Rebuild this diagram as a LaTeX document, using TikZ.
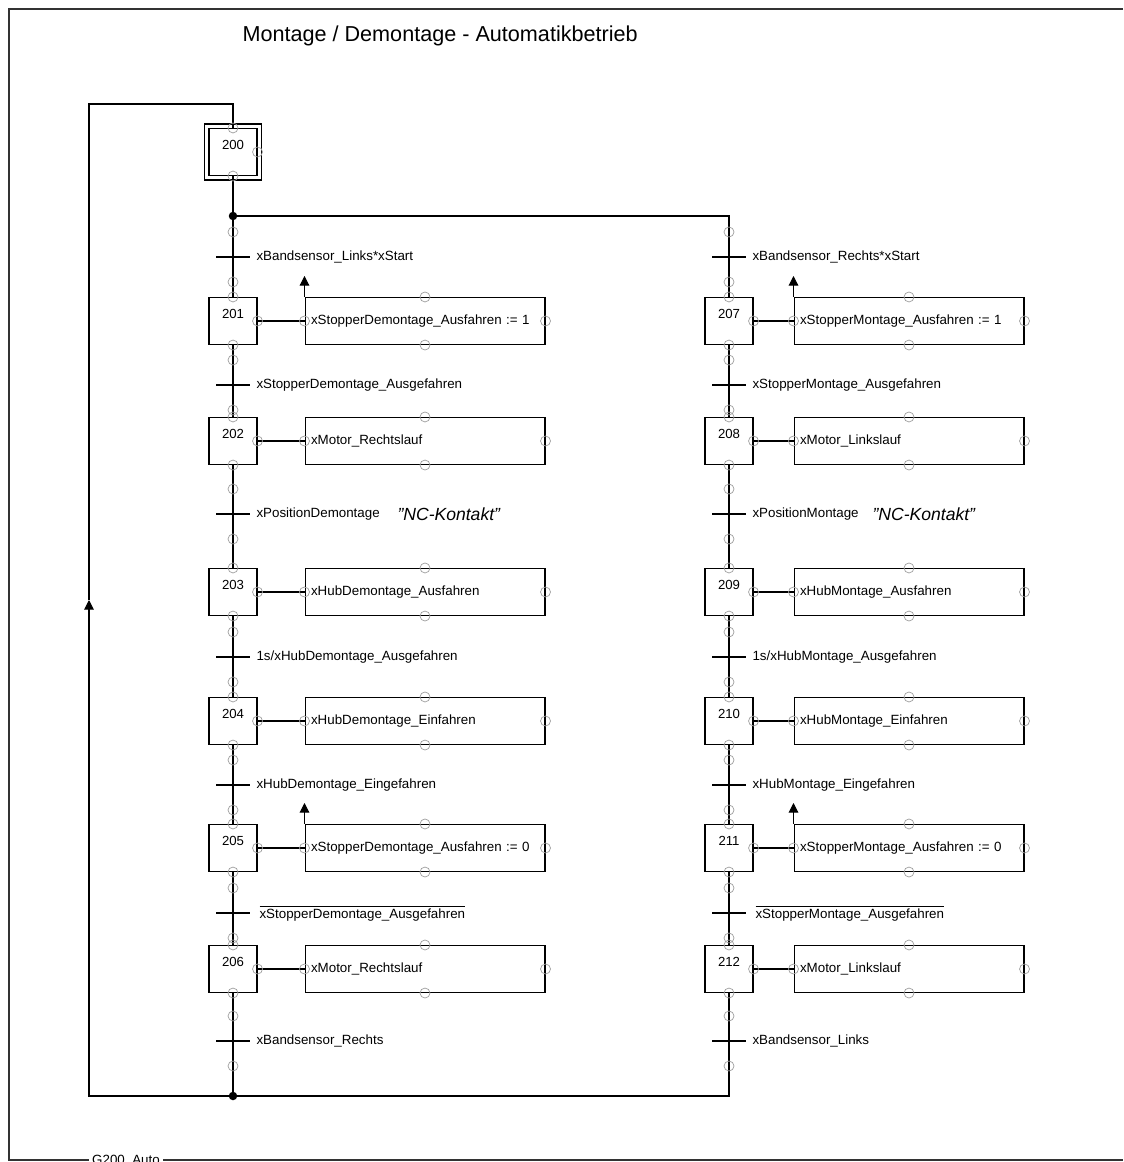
\documentclass[tikz,border=0pt]{standalone}
\usepackage{fontspec}
\setmainfont{Liberation Sans}
\usepackage{amsmath}
\usetikzlibrary{arrows.meta}

\tikzset{
  gstep/.style={draw,minimum width=0.96cm,minimum height=0.94cm,inner sep=0pt,
    font=\fontsize{7.5}{9}\selectfont,text height=5pt,text depth=7.5pt},
  gact/.style={draw,minimum height=0.94cm,inner xsep=0.12cm,inner ysep=0pt,
    align=left,text width=#1,font=\fontsize{7.6}{9}\selectfont},
  lbl/.style={anchor=west,inner sep=0pt,font=\fontsize{7.6}{9}\selectfont},
  nck/.style={anchor=west,inner sep=0pt,font=\fontsize{10}{12}\selectfont\itshape},
  port/.style={draw=black!38,line width=0.4pt},
  frame/.style={draw=black!80,line width=0.8pt},
  tip/.style={-{Triangle[width=5.5pt,length=5.5pt]}}
}

\begin{document}
\begin{tikzpicture}[x=0.02cm,y=-0.02cm,line width=0.6pt]
\useasboundingbox (0,0) rectangle (1123,1162);
% frame and title
\draw[frame] (1123,9) -- (9,9) -- (9,1160) -- (1123,1160);
\node[fill=white,inner xsep=2pt,inner ysep=1pt,font=\fontsize{7.6}{9}\selectfont] (gname) at (126,1161) {G200\_Auto};
\node[anchor=west,inner sep=0pt,font=\fontsize{12.3}{14}\selectfont] (title) at (242,36) {Montage / Demontage - Automatikbetrieb};

% initial step
\node[gstep] (s200) at (233,152) {200};
\draw ([shift={(-4,4)}]s200.south west) rectangle ([shift={(4,-4)}]s200.north east);
\coordinate (div) at (233,216);
\coordinate (conv) at (233,1096);
\coordinate (ret) at (89,1096);
\coordinate (mid) at (89,600);
\coordinate (top) at (89,104);

% left branch
\node[gstep] (s201) at (233,321) {201};
\node[gstep] (s202) at (233,441) {202};
\node[gstep] (s203) at (233,592) {203};
\node[gstep] (s204) at (233,721) {204};
\node[gstep] (s205) at (233,848) {205};
\node[gstep] (s206) at (233,969) {206};
\node[gact=4.56cm] (a201) at (425,321) {xStopperDemontage\_Ausfahren~:=~1};
\node[gact=4.56cm] (a202) at (425,441) {xMotor\_Rechtslauf};
\node[gact=4.56cm] (a203) at (425,592) {xHubDemontage\_Ausfahren};
\node[gact=4.56cm] (a204) at (425,721) {xHubDemontage\_Einfahren};
\node[gact=4.56cm] (a205) at (425,848) {xStopperDemontage\_Ausfahren~:=~0};
\node[gact=4.56cm] (a206) at (425,969) {xMotor\_Rechtslauf};

% right branch
\node[gstep] (s207) at (729,321) {207};
\node[gstep] (s208) at (729,441) {208};
\node[gstep] (s209) at (729,592) {209};
\node[gstep] (s210) at (729,721) {210};
\node[gstep] (s211) at (729,848) {211};
\node[gstep] (s212) at (729,969) {212};
\node[gact=4.36cm] (a207) at (909,321) {xStopperMontage\_Ausfahren~:=~1};
\node[gact=4.36cm] (a208) at (909,441) {xMotor\_Linkslauf};
\node[gact=4.36cm] (a209) at (909,592) {xHubMontage\_Ausfahren};
\node[gact=4.36cm] (a210) at (909,721) {xHubMontage\_Einfahren};
\node[gact=4.36cm] (a211) at (909,848) {xStopperMontage\_Ausfahren~:=~0};
\node[gact=4.36cm] (a212) at (909,969) {xMotor\_Linkslauf};

% transitions
\coordinate (t1) at (233,257);
\coordinate (t2) at (233,385);
\coordinate (t3) at (233,514);
\coordinate (t4) at (233,657);
\coordinate (t5) at (233,785);
\coordinate (t6) at (233,913);
\coordinate (t7) at (233,1041);
\coordinate (t8) at (729,257);
\coordinate (t9) at (729,385);
\coordinate (t10) at (729,514);
\coordinate (t11) at (729,657);
\coordinate (t12) at (729,785);
\coordinate (t13) at (729,913);
\coordinate (t14) at (729,1041);
\node[lbl] (c1) at (256,257) {xBandsensor\_Links*xStart};
\node[lbl] (c2) at (256,385) {xStopperDemontage\_Ausgefahren};
\node[lbl] (c3) at (256,514) {xPositionDemontage};
\node[nck] (k3) at (397,514) {"NC-Kontakt"};
\node[lbl] (c4) at (256,657) {1s/xHubDemontage\_Ausgefahren};
\node[lbl] (c5) at (256,785) {xHubDemontage\_Eingefahren};
\node[lbl] (c6) at (259,913) {$\overline{\mbox{xStopperDemontage\_Ausgefahren}}$};
\node[lbl] (c7) at (256,1041) {xBandsensor\_Rechts};
\node[lbl] (c8) at (752,257) {xBandsensor\_Rechts*xStart};
\node[lbl] (c9) at (752,385) {xStopperMontage\_Ausgefahren};
\node[lbl] (c10) at (752,514) {xPositionMontage};
\node[nck] (k10) at (872,514) {"NC-Kontakt"};
\node[lbl] (c11) at (752,657) {1s/xHubMontage\_Ausgefahren};
\node[lbl] (c12) at (752,785) {xHubMontage\_Eingefahren};
\node[lbl] (c13) at (755,913) {$\overline{\mbox{xStopperMontage\_Ausgefahren}}$};
\node[lbl] (c14) at (752,1041) {xBandsensor\_Links};

% connections
\draw (s200) -- (div) -- (s201) -- (s202) -- (s203) -- (s204) -- (s205) -- (s206) -- (conv);
\draw (div) -| (s207) -- (s208) -- (s209) -- (s210) -- (s211) -- (s212) |- (conv);
\draw[tip] (conv) -- (ret) -- (mid);
\draw (mid) -- (top) -| (s200);
\foreach \n in {201,...,212} \draw (s\n) -- (a\n);
\foreach \n in {201,205,207,211} \draw[tip] (a\n.north west) -- ++(0,-21);
\foreach \t in {1,...,14} \draw (t\t) ++(-17,0) -- ++(34,0);
\fill (div) circle (0.085cm) (conv) circle (0.085cm);

% connection points
\foreach \n in {200,...,212} \draw[port] (s\n.north) circle (0.1cm) (s\n.east) circle (0.1cm) (s\n.south) circle (0.1cm);
\foreach \n in {201,...,212} \draw[port] (a\n.west) circle (0.1cm) (a\n.north) circle (0.1cm) (a\n.south) circle (0.1cm) (a\n.east) circle (0.1cm);
\foreach \t in {1,...,14} \draw[port] (t\t) ++(0,-25) circle (0.1cm) ++(0,50) circle (0.1cm);
\end{tikzpicture}
\end{document}
